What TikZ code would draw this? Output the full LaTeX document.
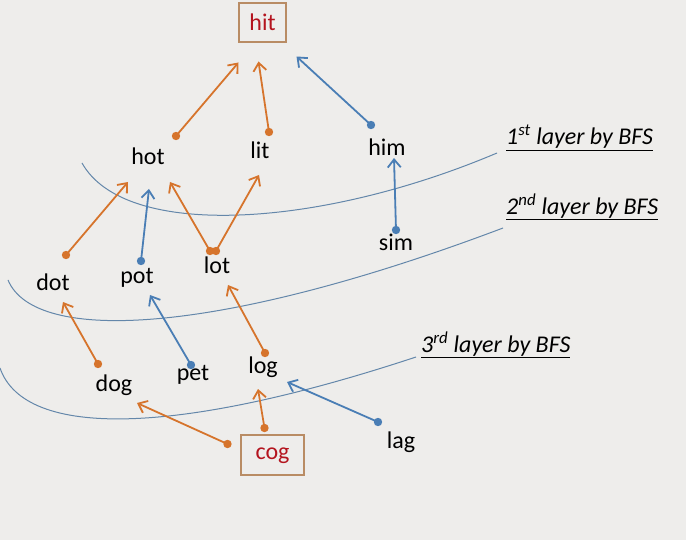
\documentclass[tikz,border=0pt]{standalone}
\usepackage{fontspec}
\setmainfont{Carlito}
\usetikzlibrary{arrows.meta,calc}
\definecolor{bgc}{RGB}{238,237,235}
\definecolor{orng}{RGB}{214,116,44}
\definecolor{blu}{RGB}{74,126,181}
\definecolor{lyr}{RGB}{100,135,170}
\definecolor{boxc}{RGB}{185,140,100}
\definecolor{redt}{RGB}{180,20,30}
\tikzset{
  word/.style={inner sep=0pt, font=\fontsize{24}{27}\selectfont, text=black},
  start/.style={inner sep=0pt, draw=boxc, line width=1.3pt, font=\fontsize{24}{27}\selectfont, text=redt},
  conn/.style={line width=1.8pt, -{Straight Barb[length=8pt,width=13pt,line width=1.8pt]}},
  layer/.style={draw=lyr, line width=1pt},
  lab/.style={inner sep=0pt, font=\fontsize{24}{27}\selectfont\itshape, text=black, anchor=west}
}
\newcommand{\conn}[3]{%
  \draw[conn,#1] #2 -- #3;
  \fill[#1] #2 circle (4.2);
}
\begin{document}
\begin{tikzpicture}[x=1pt,y=-1pt]
\fill[bgc] (0,0) rectangle (686,540);
\useasboundingbox (0,0) rectangle (686,540);

% layer curves
\draw[layer] (82,163) .. controls (125,240) and (320,228) .. (497,153);
\draw[layer] (8,280) .. controls (35,345) and (220,335) .. (503,228);
\draw[layer] (0,368) .. controls (25,440) and (180,435) .. (416,357);

% layer labels
\node[lab] (l1) at (506,138) {\underline{1\textsuperscript{st} layer by BFS}};
\node[lab] (l2) at (506,207) {\underline{2\textsuperscript{nd} layer by BFS}};
\node[lab] (l3) at (421,345) {\underline{3\textsuperscript{rd} layer by BFS}};

% nodes
\node[start, minimum width=47, minimum height=39, text height=17pt, text depth=0pt] (hit) at (262.5,22.5) {hit};
\node[start, minimum width=63, minimum height=40, text height=8pt, text depth=0pt] (cog) at (272.5,455) {cog};
\node[word] (hot) at (148,156) {hot};
\node[word] (lit) at (260,150) {lit};
\node[word] (him) at (387,147) {him};
\node[word] (sim) at (396,242) {sim};
\node[word] (dot) at (53,282) {dot};
\node[word] (pot) at (137,278) {pot};
\node[word] (lot) at (217,265) {lot};
\node[word] (dog) at (114,385) {dog};
\node[word] (pet) at (193,375) {pet};
\node[word] (log) at (263,367) {log};
\node[word] (lag) at (401,442) {lag};

% connectors
\conn{orng}{($(hot)+(28,-20)$)}{($(hit)+(-24,40)$)}
\conn{orng}{($(lit)+(9,-18)$)}{($(hit)+(-4,39)$)}
\conn{blu}{($(him)+(-16,-22)$)}{($(hit)+(34,34)$)}
\conn{blu}{($(sim)+(0,-12)$)}{($(him)+(7,11)$)}
\conn{orng}{($(dot)+(13,-27)$)}{($(hot)+(-20,26)$)}
\conn{blu}{($(pot)+(4,-17)$)}{($(hot)+(1,33)$)}
\conn{orng}{($(lot)+(-7,-14)$)}{($(hot)+(22,26)$)}
\conn{orng}{($(lot)+(-1,-14)$)}{($(lit)+(-1,25)$)}
\conn{orng}{($(dog)+(-16,-21)$)}{($(dot)+(10,20)$)}
\conn{blu}{($(pet)+(-2,-10)$)}{($(pot)+(13,17)$)}
\conn{orng}{($(log)+(2,-14)$)}{($(lot)+(11,20)$)}
\conn{orng}{($(cog)+(-45,-11)$)}{($(dog)+(23,18)$)}
\conn{orng}{($(cog)+(-8,-27)$)}{($(log)+(-5,22)$)}
\conn{blu}{($(lag)+(-23,-20)$)}{($(log)+(24,15)$)}
\end{tikzpicture}
\end{document}
